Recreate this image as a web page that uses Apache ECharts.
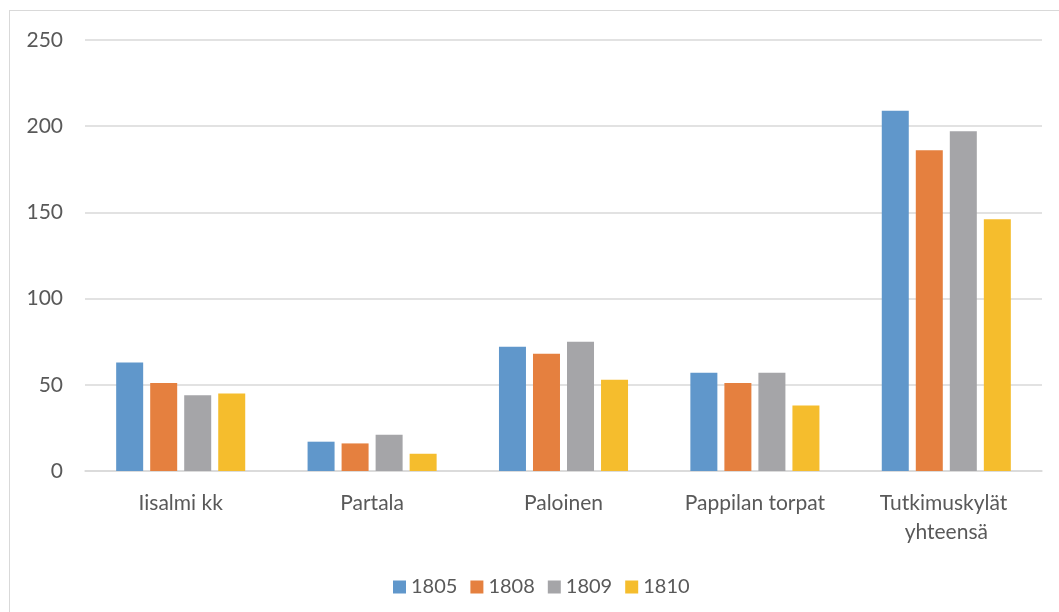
<!DOCTYPE html>
<html>
<head>
<meta charset="utf-8">
<script src="https://cdn.jsdelivr.net/npm/echarts@6/dist/echarts.min.js"></script>
<style>
  html, body { margin: 0; padding: 0; background: #fff; }
  #frame { position: absolute; left: 9px; top: 10px; width: 1100px; height: 700px; border-left: 1px solid #d9d9d9; border-top: 1px solid #d9d9d9; }
  #chart { position: absolute; left: 0; top: 0; width: 1059px; height: 612px; }
</style>
</head>
<body>
<div id="frame"></div>
<div id="chart"></div>
<script>
const categories = ['Iisalmi kk', 'Partala', 'Paloinen', 'Pappilan torpat', 'Tutkimuskylät yhteensä']
const years = ['1805', '1808', '1809', '1810']
const values1805 = [63, 17, 72, 57, 209]
const values1808 = [51, 16, 68, 51, 186]
const values1809 = [44, 21, 75, 57, 197]
const values1810 = [45, 10, 53, 38, 146]
const colors = ['#6097cb', '#e5803f', '#a5a5a8', '#f5bd2d']

const chart = echarts.init(document.getElementById('chart'))
const font = 'Lato, "Liberation Sans", sans-serif'
const allValues = [values1805, values1808, values1809, values1810]

chart.setOption({
  backgroundColor: 'transparent',
  animation: false,
  textStyle: { fontFamily: font },
  grid: { left: 85, right: 17, top: 40, bottom: 141 },
  legend: {
    bottom: 10,
    left: 388,
    itemWidth: 13,
    itemHeight: 13,
    itemGap: 13,
    icon: 'rect',
    textStyle: { fontSize: 20, color: '#595959', fontFamily: font }
  },
  xAxis: {
    type: 'category',
    data: categories,
    axisTick: { show: false },
    axisLine: { lineStyle: { color: '#d9d9d9', width: 1.5 } },
    axisLabel: {
      fontSize: 21,
      color: '#595959',
      margin: 18,
      lineHeight: 29,
      width: 180,
      overflow: 'break',
      interval: 0
    }
  },
  yAxis: {
    type: 'value',
    min: 0,
    max: 250,
    interval: 50,
    axisLine: { show: false },
    axisTick: { show: false },
    axisLabel: { fontSize: 21, color: '#595959', margin: 22 },
    splitLine: { lineStyle: { color: '#d9d9d9', width: 1.5 } }
  },
  series: years.map((y, i) => ({
    name: y,
    type: 'bar',
    data: allValues[i],
    barWidth: 27,
    barGap: '26%',
    itemStyle: { color: colors[i] }
  }))
})
</script>
</body>
</html>
